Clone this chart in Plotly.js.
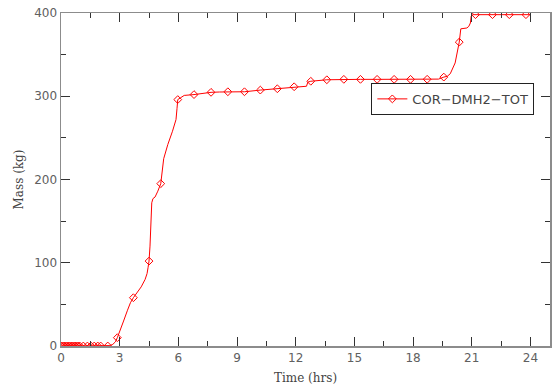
<!DOCTYPE html>
<html>
<head>
<meta charset="utf-8">
<script src="https://cdn.plot.ly/plotly-3.0.1.min.js"></script>
<style>html,body{margin:0;padding:0;background:#fff;}#chart{width:552px;height:392px;}</style>
</head>
<body>
<div id="chart"></div>
<script>
// Full curve (time in hrs, mass in kg)
var lineTime = [0, 0.5, 1.0, 1.5, 2.0, 2.39, 2.5, 2.65, 2.78, 2.88, 3.0, 3.2, 3.4, 3.55, 3.70, 3.9, 4.1, 4.3, 4.4, 4.45, 4.50, 4.55, 4.60, 4.64, 4.70, 4.81, 4.95, 5.10, 5.25, 5.46, 5.70, 5.88, 5.93, 5.97, 6.10, 6.30, 6.80, 7.20, 7.67, 8.10, 8.53, 9.38, 10.19, 11.06, 11.92, 12.55, 12.62, 12.77, 13.59, 14.46, 15.31, 16.16, 17.03, 17.87, 18.72, 19.30, 19.57, 19.75, 19.90, 20.05, 20.15, 20.36, 20.44, 20.75, 20.85, 20.93, 20.97, 21.05, 21.19, 22.06, 22.92, 23.77, 24.0];
var lineMass = [0, 0, 0, 0, 0, 0, 0.5, 2, 5, 10, 17, 30, 43, 52, 58, 64, 71, 80, 87, 94, 102, 120, 145, 172, 177, 179, 186, 195, 225, 242, 258, 272, 285, 296, 298, 301, 302, 303.5, 304.7, 305.1, 305.4, 305.4, 307.4, 309, 311.4, 312, 317, 318, 319.8, 320.3, 320.3, 320.3, 320.3, 320.3, 320.4, 320.6, 323, 324, 327, 334, 340, 365, 381, 382, 384, 388, 396, 398, 398, 398, 398, 398, 398];

// Marker positions
var markTime = [0, 0.08, 0.16, 0.24, 0.32, 0.40, 0.48, 0.56, 0.64, 0.72, 0.80, 0.88, 0.96, 1.14, 1.35, 1.53, 1.70, 1.88, 2.03, 2.39, 2.88, 3.70, 4.50, 5.10, 5.97, 6.80, 7.67, 8.53, 9.38, 10.19, 11.06, 11.92, 12.77, 13.59, 14.46, 15.31, 16.16, 17.03, 17.87, 18.72, 19.57, 20.36, 21.19, 22.06, 22.92, 23.77];
var markMass = [0, 0, 0, 0, 0, 0, 0, 0, 0, 0, 0, 0, 0, 0, 0, 0, 0, 0, 0, 0, 10, 58, 102, 195, 296, 302, 304.7, 305.4, 305.4, 307.4, 309, 311.4, 318, 319.8, 320.3, 320.3, 320.3, 320.3, 320.3, 320.4, 323, 365, 398, 398, 398, 398];

var seriesName = 'COR\u2212DMH2\u2212TOT';
var xTitle = 'Time (hrs)';
var yTitle = 'Mass (kg)';
var xTicks = [0, 3, 6, 9, 12, 15, 18, 21, 24];
var yTicks = [0, 100, 200, 300, 400];

var red = '#ff0000';
var mk = {symbol: 'diamond-open', size: 6, color: red, line: {width: 1, color: red}};
var traces = [
  {x: lineTime, y: lineMass, mode: 'lines', line: {color: red, width: 1}, showlegend: false, hoverinfo: 'skip'},
  {x: markTime, y: markMass, mode: 'markers', marker: mk, showlegend: false},
  {x: [null], y: [null], mode: 'lines+markers', name: seriesName, line: {color: red, width: 1}, marker: mk}
];

var axisCommon = {
  showline: true, linecolor: '#8c8c8c', linewidth: 1.5, mirror: 'ticks',
  ticks: 'inside', ticklen: 9, tickwidth: 1, tickcolor: '#333',
  showgrid: false, zeroline: false,
  tickfont: {family: 'DejaVu Sans', size: 12, color: '#606060'}
};

var layout = {
  width: 552, height: 392,
  margin: {l: 61, r: 2, t: 13, b: 46},
  paper_bgcolor: '#fff', plot_bgcolor: '#fff',
  xaxis: Object.assign({}, axisCommon, {
    range: [0, 25], tickvals: xTicks, ticktext: xTicks.map(String),
    minor: {dtick: 1.5, tick0: 0, ticks: 'inside', ticklen: 5, tickcolor: '#333', tickwidth: 1},
    title: {text: xTitle, font: {family: 'DejaVu Serif', size: 12, color: '#444'}, standoff: 9}
  }),
  yaxis: Object.assign({}, axisCommon, {
    range: [0, 400], tickvals: yTicks, ticktext: yTicks.map(String),
    minor: {dtick: 50, tick0: 0, ticks: 'inside', ticklen: 5, tickcolor: '#333', tickwidth: 1},
    title: {text: yTitle, font: {family: 'DejaVu Serif', size: 12, color: '#444'}, standoff: 8}
  }),
  legend: {
    x: 0.968, y: 0.79, xanchor: 'right', yanchor: 'top',
    bgcolor: '#fff', bordercolor: '#222', borderwidth: 1,
    font: {family: 'DejaVu Sans', size: 13, color: '#444'},
    itemwidth: 30, tracegroupgap: 0
  },
  showlegend: true
};

Plotly.newPlot('chart', traces, layout, {displayModeBar: false, staticPlot: true});
</script>
</body>
</html>
